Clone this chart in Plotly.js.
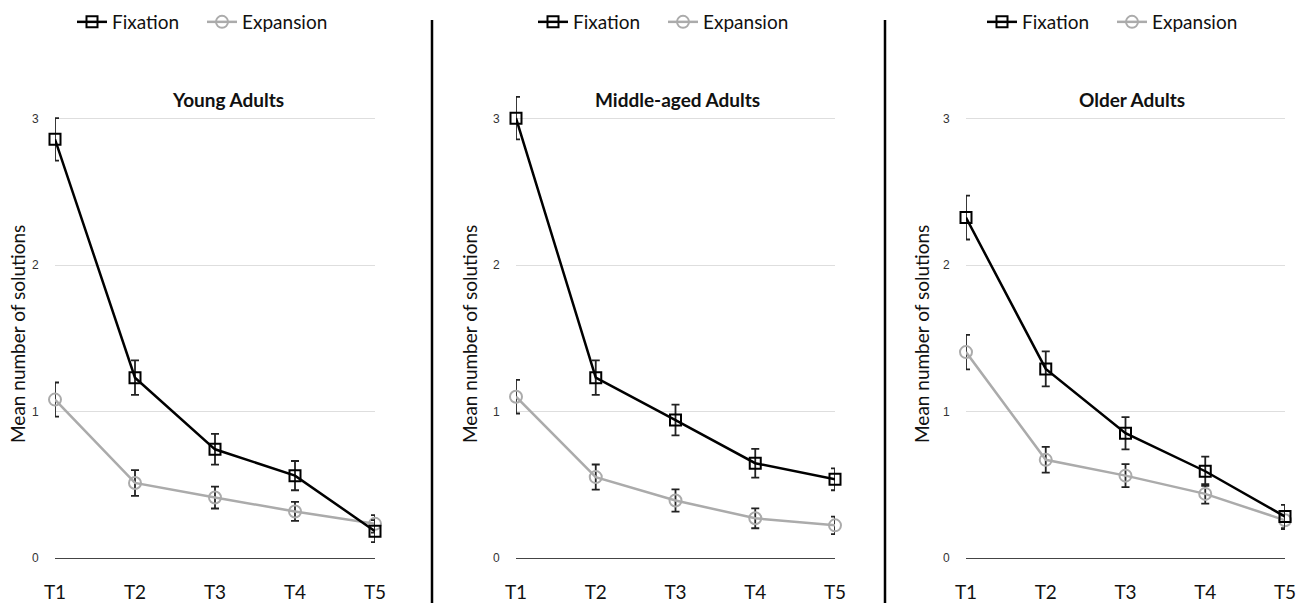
<!DOCTYPE html>
<html>
<head>
<meta charset="utf-8">
<script src="https://cdn.plot.ly/plotly-3.0.1.min.js"></script>
<style>html,body{margin:0;padding:0;background:#fff;overflow:hidden;}#chart{width:1306px;height:603px;}</style>
</head>
<body>
<div id="chart"></div>
<script>
const categories = ['T1', 'T2', 'T3', 'T4', 'T5'];
const panelTitles = ['Young Adults', 'Middle-aged Adults', 'Older Adults'];
const seriesNames = ['Fixation', 'Expansion'];
const yTickVals = [0, 1, 2, 3];
const yTickText = ['0', '1', '2', '3'];

const youngFix = [2.86, 1.23, 0.74, 0.56, 0.18];
const youngFixErr = [0.145, 0.118, 0.105, 0.10, 0.075];
const youngExp = [1.08, 0.51, 0.41, 0.315, 0.23];
const youngExpErr = [0.117, 0.088, 0.075, 0.065, 0.06];

const middleFix = [3.005, 1.23, 0.94, 0.645, 0.535];
const middleFixErr = [0.145, 0.118, 0.105, 0.098, 0.075];
const middleExp = [1.10, 0.55, 0.39, 0.268, 0.22];
const middleExpErr = [0.115, 0.086, 0.076, 0.068, 0.06];

const olderFix = [2.325, 1.29, 0.85, 0.59, 0.28];
const olderFixErr = [0.15, 0.12, 0.11, 0.10, 0.08];
const olderExp = [1.405, 0.668, 0.56, 0.435, 0.255];
const olderExpErr = [0.118, 0.088, 0.078, 0.066, 0.06];

const panels = [
  {fix: youngFix, fixErr: youngFixErr, exp: youngExp, expErr: youngExpErr},
  {fix: middleFix, fixErr: middleFixErr, exp: middleExp, expErr: middleExpErr},
  {fix: olderFix, fixErr: olderFixErr, exp: olderExp, expErr: olderExpErr}
];

const W = 1306, H = 603;
const px = v => v / W;
const py = v => (H - v) / H;

// y: value 0 at pixel 557.5, 146.2 px per unit; axis extended to 3.2 so the top points are not hidden
const Y0 = 557.5, PPU = 146.2, YMAX = 3.2;
const xDomains = [[55, 375], [516, 835], [966, 1285]];
const yDomain = [py(Y0), py(Y0 - YMAX * PPU)];
const legendX = [72, 533, 982];
const titleX = [228, 677, 1132];
const yTitleX = [18, 470, 922];
const dividerX = [432, 885];

const FONT = 'Lato, "Open Sans", sans-serif';
const fixColor = '#000000';
const expColor = '#ababab';
const errColor = '#222222';

const data = [];
panels.forEach((p, i) => {
  const xa = i === 0 ? 'x' : 'x' + (i + 1);
  const ya = i === 0 ? 'y' : 'y' + (i + 1);
  const lg = i === 0 ? 'legend' : 'legend' + (i + 1);
  data.push({
    type: 'scatter', mode: 'lines+markers', name: seriesNames[1],
    x: categories, y: p.exp, xaxis: xa, yaxis: ya, legend: lg,
    line: {color: expColor, width: 2.5},
    marker: {symbol: 'circle-open', size: 12, color: expColor, line: {width: 2, color: expColor}},
    error_y: {type: 'data', array: p.expErr, visible: true, color: errColor, thickness: 1.8, width: 4},
    cliponaxis: false, legendrank: 2
  });
  data.push({
    type: 'scatter', mode: 'lines+markers', name: seriesNames[0],
    x: categories, y: p.fix, xaxis: xa, yaxis: ya, legend: lg,
    line: {color: fixColor, width: 2.5},
    marker: {symbol: 'square-open', size: 11, color: fixColor, line: {width: 2, color: fixColor}},
    error_y: {type: 'data', array: p.fixErr, visible: true, color: errColor, thickness: 1.8, width: 4},
    cliponaxis: false, legendrank: 1
  });
});

const layout = {
  width: W, height: H,
  margin: {l: 0, r: 0, t: 0, b: 0, autoexpand: false},
  paper_bgcolor: '#ffffff', plot_bgcolor: '#ffffff',
  font: {family: FONT, color: '#111'},
  showlegend: true,
  annotations: [],
  shapes: []
};

panels.forEach((p, i) => {
  const sfx = i === 0 ? '' : String(i + 1);
  layout['xaxis' + sfx] = {
    domain: [px(xDomains[i][0]), px(xDomains[i][1])],
    anchor: 'y' + sfx,
    type: 'category', range: [0, 4],
    showgrid: false, zeroline: false,
    showline: true, linecolor: '#444', linewidth: 1.5,
    ticks: 'outside', ticklen: 17, tickcolor: 'rgba(0,0,0,0)',
    tickfont: {family: FONT, size: 19, color: '#111'},
    automargin: false, fixedrange: true
  };
  layout['yaxis' + sfx] = {
    domain: yDomain,
    anchor: 'x' + sfx,
    range: [0, YMAX],
    tickvals: yTickVals, ticktext: yTickText,
    showgrid: true, gridcolor: '#dedede', gridwidth: 1,
    zeroline: false, showline: false,
    ticks: 'outside', ticklen: 13, tickcolor: 'rgba(0,0,0,0)',
    tickfont: {family: 'Liberation Sans, Arial, sans-serif', size: 12, color: '#333'},
    automargin: false, fixedrange: true
  };
  const lgKey = i === 0 ? 'legend' : 'legend' + (i + 1);
  layout[lgKey] = {
    orientation: 'h', xref: 'container', yref: 'container',
    x: px(legendX[i]), xanchor: 'left', y: py(22), yanchor: 'middle',
    font: {family: FONT, size: 19, color: '#111'},
    bgcolor: 'rgba(0,0,0,0)', entrywidth: 85, entrywidthmode: 'pixels',
    traceorder: 'normal'
  };
  layout.annotations.push({
    text: '<b>' + panelTitles[i] + '</b>', xref: 'paper', yref: 'paper',
    x: px(titleX[i]), y: py(99), xanchor: 'center', yanchor: 'middle',
    showarrow: false, font: {family: FONT, size: 19, color: '#111'}
  });
  layout.annotations.push({
    text: 'Mean number of solutions', xref: 'paper', yref: 'paper',
    x: px(yTitleX[i]), y: py(334), xanchor: 'center', yanchor: 'middle',
    textangle: -90, showarrow: false, font: {family: FONT, size: 19, color: '#111'}
  });
});

dividerX.forEach(xv => {
  layout.shapes.push({
    type: 'line', xref: 'paper', yref: 'paper',
    x0: px(xv), x1: px(xv), y0: py(20), y1: 0,
    line: {color: '#000', width: 2.5}
  });
});

Plotly.newPlot('chart', data, layout, {displayModeBar: false, staticPlot: true});
</script>
</body>
</html>
